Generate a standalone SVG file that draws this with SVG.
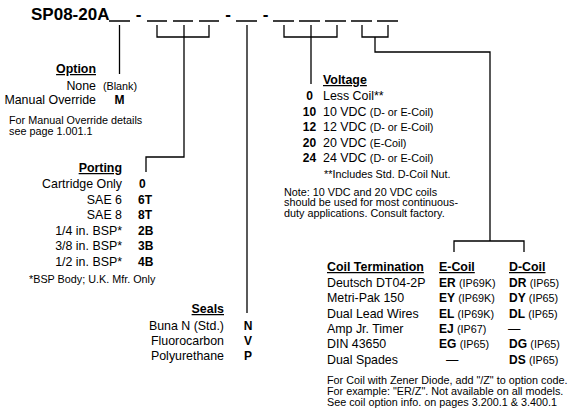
<svg xmlns="http://www.w3.org/2000/svg" width="573" height="412" viewBox="0 0 573 412">
<style>
text{font-family:"Liberation Sans",Arial,Helvetica,sans-serif;fill:#000}
.t{font-size:12.4px}
.h{font-size:12.4px;font-weight:bold;text-decoration:underline}
.c{font-size:12px;font-weight:bold}
.s{font-size:10.8px}
.r{text-anchor:end}
.m{text-anchor:middle}
.ttl{font-size:17px;font-weight:bold}
.ln{stroke:#000;stroke-width:1.3;fill:none}
</style>
<rect width="573" height="412" fill="#fff"/>
<g id="title">
<text class="ttl" x="31" y="20">SP08-20A</text>
<text class="ttl m" x="138.5" y="20">-</text>
<text class="ttl m" x="228" y="20">-</text>
<text class="ttl m" x="265.5" y="20">-</text>
<path class="ln" d="M109,21H130M147,21H167M173,21H193M199,21H219M236,21H257M273,21H294M299,21H320M325,21H346M351,21H372M377,21H398"/>
</g>
<g id="connectors">
<path class="ln" d="M119.5,25V74"/>
<path class="ln" d="M157,25V37H209V25M184,25V157H146V172"/>
<path class="ln" d="M247,25V313"/>
<path class="ln" d="M284,25V37H337V25M311,25V84"/>
<path class="ln" d="M362,25V37H388V25M375,37V52H490V241M454,252V241H524V252"/>
</g>
<g id="option">
<text class="h r" x="96" y="73">Option</text>
<text class="t r" x="96" y="90">None</text>
<text class="s m" x="120" y="90">(Blank)</text>
<text class="t r" x="96" y="104">Manual Override</text>
<text class="c m" x="119.5" y="104">M</text>
<text class="s" x="9" y="124">For Manual Override details</text>
<text class="s" x="9" y="135">see page 1.001.1</text>
</g>
<g id="porting">
<text class="h r" x="122" y="172">Porting</text>
<text class="t r" x="122" y="188">Cartridge Only</text>
<text class="t r" x="122" y="203.5">SAE 6</text>
<text class="t r" x="122" y="219">SAE 8</text>
<text class="t r" x="122" y="234.5">1/4 in. BSP*</text>
<text class="t r" x="122" y="250">3/8 in. BSP*</text>
<text class="t r" x="122" y="265.5">1/2 in. BSP*</text>
<text class="c" x="139" y="188">0</text>
<text class="c" x="138" y="203.5">6T</text>
<text class="c" x="138" y="219">8T</text>
<text class="c" x="138" y="234.5">2B</text>
<text class="c" x="138" y="250">3B</text>
<text class="c" x="138" y="265.5">4B</text>
<text class="s" x="29" y="283">*BSP Body; U.K. Mfr. Only</text>
</g>
<g id="seals">
<text class="h r" x="224" y="313">Seals</text>
<text class="t r" x="224" y="330">Buna N (Std.)</text>
<text class="t r" x="224" y="345">Fluorocarbon</text>
<text class="t r" x="224" y="360">Polyurethane</text>
<text class="c m" x="248" y="330">N</text>
<text class="c m" x="248" y="345">V</text>
<text class="c m" x="248" y="360">P</text>
</g>
<g id="voltage">
<text class="h" x="323" y="84">Voltage</text>
<text class="c m" x="309.5" y="100">0</text>
<text class="c m" x="309.5" y="115.5">10</text>
<text class="c m" x="309.5" y="131">12</text>
<text class="c m" x="309.5" y="146.5">20</text>
<text class="c m" x="309.5" y="162">24</text>
<text class="t" x="323" y="100">Less Coil**</text>
<text class="t" x="323" y="115.5">10 VDC <tspan class="s">(D- or E-Coil)</tspan></text>
<text class="t" x="323" y="131">12 VDC <tspan class="s">(D- or E-Coil)</tspan></text>
<text class="t" x="323" y="146.5">20 VDC <tspan class="s">(E-Coil)</tspan></text>
<text class="t" x="323" y="162">24 VDC <tspan class="s">(D- or E-Coil)</tspan></text>
<text class="s" x="324" y="178">**Includes Std. D-Coil Nut.</text>
<text class="s" x="284" y="195.5">Note: 10 VDC and 20 VDC coils</text>
<text class="s" x="284" y="206">should be used for most continuous-</text>
<text class="s" x="284" y="216.5">duty applications. Consult factory.</text>
</g>
<g id="coil">
<text class="h" x="327" y="271">Coil Termination</text>
<text class="h" x="439" y="271">E-Coil</text>
<text class="h" x="509" y="271">D-Coil</text>
<text class="t" x="327" y="287">Deutsch DT04-2P</text>
<text class="t" x="327" y="302">Metri-Pak 150</text>
<text class="t" x="327" y="317.5">Dual Lead Wires</text>
<text class="t" x="327" y="333">Amp Jr. Timer</text>
<text class="t" x="327" y="348">DIN 43650</text>
<text class="t" x="327" y="364">Dual Spades</text>
<text class="c" x="439" y="287">ER <tspan class="s" font-weight="normal">(IP69K)</tspan></text>
<text class="c" x="439" y="302">EY <tspan class="s" font-weight="normal">(IP69K)</tspan></text>
<text class="c" x="439" y="317.5">EL <tspan class="s" font-weight="normal">(IP69K)</tspan></text>
<text class="c" x="439" y="333">EJ <tspan class="s" font-weight="normal">(IP67)</tspan></text>
<text class="c" x="439" y="348">EG <tspan class="s" font-weight="normal">(IP65)</tspan></text>
<text class="t" x="446" y="364">—</text>
<text class="c" x="509" y="287">DR <tspan class="s" font-weight="normal">(IP65)</tspan></text>
<text class="c" x="509" y="302">DY <tspan class="s" font-weight="normal">(IP65)</tspan></text>
<text class="c" x="509" y="317.5">DL <tspan class="s" font-weight="normal">(IP65)</tspan></text>
<text class="t" x="508" y="333">—</text>
<text class="c" x="509" y="348">DG <tspan class="s" font-weight="normal">(IP65)</tspan></text>
<text class="c" x="509" y="364">DS <tspan class="s" font-weight="normal">(IP65)</tspan></text>
<text class="s" x="327" y="384">For Coil with Zener Diode, add "/Z" to option code.</text>
<text class="s" x="327" y="395">For example: "ER/Z". Not available on all models.</text>
<text class="s" x="327" y="405.5">See coil option info. on pages 3.200.1 &amp; 3.400.1</text>
</g>
</svg>
